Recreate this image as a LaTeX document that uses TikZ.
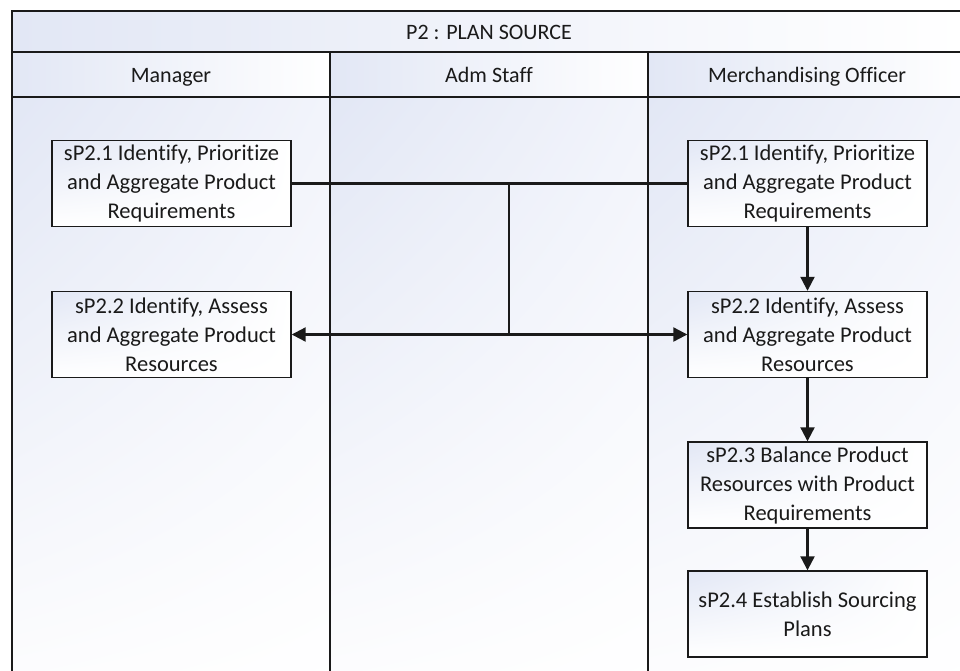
\documentclass[tikz,border=0pt]{standalone}
\usepackage{fontspec}
\setmainfont{Carlito}[Ligatures=CommonOff]
\usetikzlibrary{arrows.meta,shadings}

\definecolor{ink}{HTML}{1A1A1A}
\definecolor{tint}{HTML}{E2E7F5}
\definecolor{tintsoft}{HTML}{F2F4FB}
\definecolor{paper}{HTML}{FDFDFE}

\tikzset{
  lanefill/.style={shade, upper left=tint, upper right=tintsoft, lower left=paper, lower right=white},
  headfill/.style={shade, upper left=tint, lower left=tint, upper right=white, lower right=white},
  gridline/.style={draw=ink, line width=1.8pt},
  stepbox/.style={draw=ink, line width=1.4pt, shade, upper left=tint, upper right=white,
    lower left=white, lower right=white, minimum width=239pt, minimum height=86pt,
    inner sep=0pt, align=center, text=ink, font=\fontsize{22.5}{29}\selectfont},
  heading/.style={text=ink, inner sep=0pt, anchor=base, font=\fontsize{22}{24}\selectfont},
  flow/.style={draw=ink, line width=2.2pt},
  tip/.style={-{Triangle[length=14pt,width=14pt]}}
}

\begin{document}
\begin{tikzpicture}[x=1pt,y=-1pt]
  \useasboundingbox (0,0) rectangle (960,670);
  \clip (0,0) rectangle (960,670);
  \fill[white] (0,0) rectangle (960,670);

  % pool background: title bar, lane headers, lane bodies
  \path[headfill] (12,11) rectangle (966,52);
  \path[headfill] (12,52) rectangle (330,97);
  \path[headfill] (330,52) rectangle (648,97);
  \path[headfill] (648,52) rectangle (966,97);
  \path[lanefill] (12,97) rectangle (330,690);
  \path[lanefill] (330,97) rectangle (648,690);
  \path[lanefill] (648,97) rectangle (966,690);

  % pool frame and lane separators
  \draw[gridline] (12,11) rectangle (966,690);
  \draw[gridline] (12,52) -- (966,52);
  \draw[gridline] (12,97) -- (966,97);
  \draw[gridline] (330,52) -- (330,690);
  \draw[gridline] (648,52) -- (648,690);

  % titles (placed on their baselines)
  \node[heading] (pool) at (489,39) {P2 : PLAN SOURCE};
  \node[heading] (laneMgr) at (171,82) {Manager};
  \node[heading] (laneAdm) at (489,82) {Adm Staff};
  \node[heading] (laneMo) at (807,82) {Merchandising Officer};

  % process steps
  \node[stepbox] (m1) at (171.5,183.5) {sP2.1 Identify, Prioritize\\and Aggregate Product\\Requirements};
  \node[stepbox] (m2) at (171.5,334.5) {sP2.2 Identify, Assess\\and Aggregate Product\\Resources};
  \node[stepbox] (o1) at (807.5,183.5) {sP2.1 Identify, Prioritize\\and Aggregate Product\\Requirements};
  \node[stepbox] (o2) at (807.5,334.5) {sP2.2 Identify, Assess\\and Aggregate Product\\Resources};
  \node[stepbox] (o3) at (807.5,485) {sP2.3 Balance Product\\Resources with Product\\Requirements};
  \node[stepbox] (o4) at (807.5,614) {sP2.4 Establish Sourcing\\Plans};

  % shared junction between the two lanes
  \coordinate (jtop) at (509,183.5);
  \coordinate (jbot) at (509,334.5);

  \draw[flow] (m1.east) -- (o1.west);
  \draw[flow] (jtop) -- (jbot);
  \draw[flow,tip] (jbot) -- (m2.east);
  \draw[flow,tip] (jbot) -- (o2.west);
  \draw[flow,tip] (o1.south) -- (o2.north);
  \draw[flow,tip] (o2.south) -- (o3.north);
  \draw[flow,tip] (o3.south) -- (o4.north);
\end{tikzpicture}
\end{document}
